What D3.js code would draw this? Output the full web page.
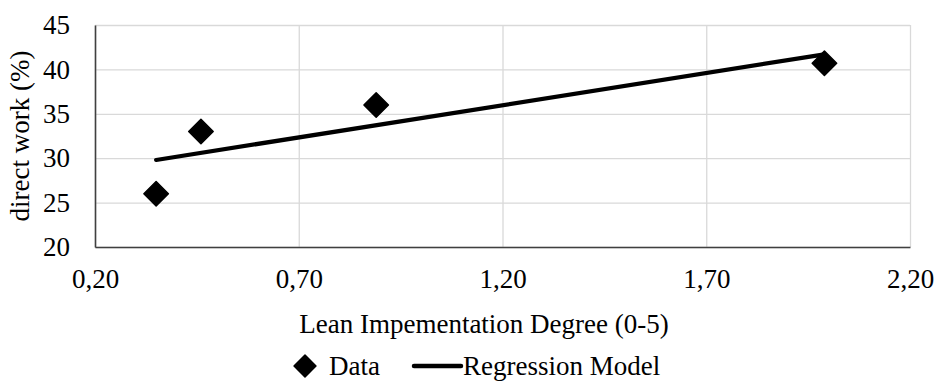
<!DOCTYPE html>
<html>
<head>
<meta charset="utf-8">
<script src="https://cdn.jsdelivr.net/npm/d3@7"></script>
<style>
  html, body { margin: 0; padding: 0; background: #fff; }
  svg { display: block; }
  text { font-family: "Liberation Serif", "Times New Roman", serif; fill: #000; }
</style>
</head>
<body>
<svg id="chart" width="939" height="382"></svg>
<script>
// ---- data ----
const dataX = [0.35, 0.46, 0.89, 1.99];
const dataY = [26.0, 33.0, 36.0, 40.7];
const regX = [0.35, 1.99];
const regY = [29.8, 41.7];
const xTickValues = [0.20, 0.70, 1.20, 1.70, 2.20];
const xTickLabels = ["0,20", "0,70", "1,20", "1,70", "2,20"];
const yTickValues = [20, 25, 30, 35, 40, 45];
const yTickLabels = ["20", "25", "30", "35", "40", "45"];
const seriesNames = ["Data", "Regression Model"];
const xTitle = "Lean Impementation Degree (0-5)";
const yTitle = "direct work (%)";

// ---- layout ----
const plotL = 95, plotR = 910, plotT = 25, plotB = 247;
const fontSize = 27;
const svg = d3.select("#chart");

const x = d3.scaleLinear().domain([0.2, 2.2]).range([plotL, plotR]);
const y = d3.scaleLinear().domain([20, 45]).range([plotB, plotT]);

// gridlines
svg.append("g")
  .attr("transform", `translate(0,${plotB})`)
  .call(d3.axisBottom(x).tickValues(xTickValues).tickSize(-(plotB - plotT)).tickFormat(""))
  .call(g => g.select(".domain").remove())
  .call(g => g.selectAll("line").attr("stroke", "#d9d9d9").attr("stroke-width", 1.3));
svg.append("g")
  .attr("transform", `translate(${plotL},0)`)
  .call(d3.axisLeft(y).tickValues(yTickValues).tickSize(-(plotR - plotL)).tickFormat(""))
  .call(g => g.select(".domain").remove())
  .call(g => g.selectAll("line").attr("stroke", "#d9d9d9").attr("stroke-width", 1.3));

// x axis
const xAxis = svg.append("g")
  .attr("transform", `translate(0,${plotB})`)
  .call(d3.axisBottom(x).tickValues(xTickValues).tickSize(0).tickPadding(22)
    .tickFormat((d, i) => xTickLabels[i]));
xAxis.select(".domain").attr("stroke", "#404040").attr("stroke-width", 1.6);
xAxis.selectAll("text").attr("font-size", fontSize).attr("font-family", "Liberation Serif").attr("fill", "#000");

// y axis
const yAxis = svg.append("g")
  .attr("transform", `translate(${plotL},0)`)
  .call(d3.axisLeft(y).tickValues(yTickValues).tickSize(0).tickPadding(25)
    .tickFormat((d, i) => yTickLabels[i]));
yAxis.select(".domain").attr("stroke", "#404040").attr("stroke-width", 1.6);
yAxis.selectAll("text").attr("font-size", fontSize).attr("font-family", "Liberation Serif").attr("fill", "#000");

// regression line
const line = d3.line().x(d => x(d[0])).y(d => y(d[1]));
svg.append("path")
  .datum(regX.map((v, i) => [v, regY[i]]))
  .attr("d", line)
  .attr("fill", "none")
  .attr("stroke", "#000")
  .attr("stroke-width", 4.2)
  .attr("stroke-linecap", "round");

// data markers (diamonds)
const diamond = d3.symbol().type(d3.symbolSquare).size(300);
svg.append("g").selectAll("path")
  .data(dataX.map((v, i) => [v, dataY[i]]))
  .join("path")
  .attr("d", diamond)
  .attr("transform", d => `translate(${x(d[0])},${y(d[1])}) rotate(45)`)
  .attr("fill", "#000")
  .attr("stroke", "#000")
  .attr("stroke-width", 1.5)
  .attr("stroke-linejoin", "round");

// axis titles
svg.append("text")
  .attr("x", 484).attr("y", 333)
  .attr("text-anchor", "middle")
  .attr("font-size", fontSize)
  .text(xTitle);
svg.append("text")
  .attr("transform", `translate(29,136) rotate(-90)`)
  .attr("text-anchor", "middle")
  .attr("font-size", fontSize)
  .text(yTitle);

// legend
const legY = 366;
svg.append("path")
  .attr("d", d3.symbol().type(d3.symbolSquare).size(240))
  .attr("transform", `translate(305,${legY}) rotate(45)`)
  .attr("fill", "#000").attr("stroke", "#000").attr("stroke-width", 1.5).attr("stroke-linejoin", "round");
svg.append("text")
  .attr("x", 329).attr("y", legY + 9)
  .attr("font-size", fontSize)
  .text(seriesNames[0]);
svg.append("line")
  .attr("x1", 414).attr("x2", 461).attr("y1", legY).attr("y2", legY)
  .attr("stroke", "#000").attr("stroke-width", 4.5).attr("stroke-linecap", "round");
svg.append("text")
  .attr("x", 463).attr("y", legY + 9)
  .attr("font-size", fontSize)
  .text(seriesNames[1]);
</script>
</body>
</html>
